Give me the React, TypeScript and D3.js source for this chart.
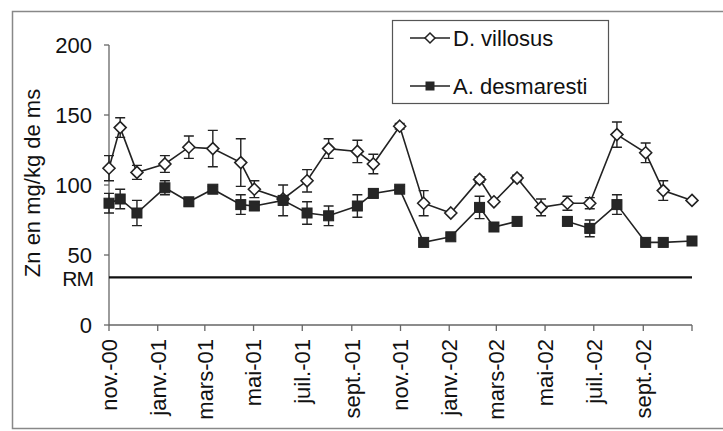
import React, { useRef, useEffect } from "react";
import * as d3 from "d3";

// sampling dates
const dates = [
  "2000-11-01", "2000-11-15", "2000-12-06", "2001-01-10", "2001-02-09",
  "2001-03-11", "2001-04-15", "2001-05-02", "2001-06-07", "2001-07-07",
  "2001-08-03", "2001-09-08", "2001-09-28", "2001-10-31", "2001-11-30",
  "2002-01-03", "2002-02-08", "2002-02-26", "2002-03-27", "2002-04-26",
  "2002-05-29", "2002-06-26", "2002-07-30", "2002-09-04", "2002-09-26",
  "2002-11-01",
];

const villosus = [
  112, 141, 109, 115, 127, 126, 116, 97, 90, 103, 126, 124, 115, 142, 87,
  80, 104, 88, 105, 84, 87, 87, 136, 123, 96, 89,
];
const villosusErr = [
  9, 7, 5, 6, 8, 13, 17, 6, 0, 8, 7, 8, 7, 2, 9, 0, 2, 0, 2, 6, 5, 4, 9, 7,
  7, 0,
];

const desmaresti: (number | null)[] = [
  87, 90, 80, 98, 88, 97, 86, 85, 89, 80, 78, 85, 94, 97, 59, 63, 84, 70, 74,
  null, 74, 69, 86, 59, 59, 60,
];
const desmarestiErr = [
  7, 7, 9, 5, 3, 2, 7, 3, 11, 8, 7, 8, 3, 2, 0, 0, 8, 0, 0, 0, 3, 6, 7, 0, 0,
  0,
];

const yTicks = [0, 50, 100, 150, 200];
const xTickLabels = [
  "nov.-00", "janv.-01", "mars-01", "mai-01", "juil.-01", "sept.-01",
  "nov.-01", "janv.-02", "mars-02", "mai-02", "juil.-02", "sept.-02", "",
];
const rmValue = 34;
const seriesNames = ["D. villosus", "A. desmaresti"];

const FONT = "'Liberation Sans', Arial, sans-serif";
const TEXT = "#111";

const App: React.FC = () => {
  const svgRef = useRef<SVGSVGElement | null>(null);

  useEffect(() => {
    if (!svgRef.current) return;
    const width = 723;
    const left = 109;
    const right = 692;
    const top = 45;
    const bottom = 325;

    const svg = d3.select(svgRef.current);
    svg.selectAll("*").remove();

    const parse = d3.timeParse("%Y-%m-%d");
    const dts = dates.map((d) => parse(d) as Date);

    const x = d3
      .scaleTime()
      .domain([parse("2000-11-01") as Date, parse("2002-11-01") as Date])
      .range([left, right]);
    const y = d3.scaleLinear().domain([0, 200]).range([bottom, top]);

    // outer frame
    svg
      .append("rect")
      .attr("x", 12.5)
      .attr("y", 11.5)
      .attr("width", width)
      .attr("height", 417)
      .attr("fill", "white")
      .attr("stroke", "#888")
      .attr("stroke-width", 1.5);

    // y axis
    const axisColor = "#666";
    svg
      .append("line")
      .attr("x1", left)
      .attr("x2", left)
      .attr("y1", top)
      .attr("y2", bottom)
      .attr("stroke", axisColor)
      .attr("stroke-width", 1.3);
    yTicks.forEach((t) => {
      svg
        .append("line")
        .attr("x1", left - 5)
        .attr("x2", left)
        .attr("y1", y(t))
        .attr("y2", y(t))
        .attr("stroke", axisColor)
        .attr("stroke-width", 1.3);
      svg
        .append("text")
        .attr("x", 92)
        .attr("y", y(t))
        .attr("dy", "0.36em")
        .attr("text-anchor", "end")
        .attr("font-family", FONT)
        .attr("font-size", 22)
        .attr("fill", TEXT)
        .text(t);
    });

    svg
      .append("text")
      .attr("transform", `translate(${32},${(top + bottom) / 2 - 2}) rotate(-90)`)
      .attr("dy", "0.35em")
      .attr("text-anchor", "middle")
      .attr("font-family", FONT)
      .attr("font-size", 22)
      .attr("fill", TEXT)
      .text("Zn en mg/kg de ms");

    // x axis
    svg
      .append("line")
      .attr("x1", left)
      .attr("x2", right)
      .attr("y1", bottom)
      .attr("y2", bottom)
      .attr("stroke", axisColor)
      .attr("stroke-width", 1.3);
    const ticks = x.ticks(d3.timeMonth.every(2) as d3.TimeInterval);
    ticks.forEach((t, i) => {
      const tx = x(t);
      svg
        .append("line")
        .attr("x1", tx)
        .attr("x2", tx)
        .attr("y1", bottom)
        .attr("y2", bottom + 6)
        .attr("stroke", axisColor)
        .attr("stroke-width", 1.3);
      svg
        .append("text")
        .attr("transform", `translate(${tx},${339}) rotate(-90)`)
        .attr("dy", "0.36em")
        .attr("text-anchor", "end")
        .attr("font-family", FONT)
        .attr("font-size", 22)
        .attr("fill", TEXT)
        .text(xTickLabels[i] ?? "");
    });

    // RM reference line
    svg
      .append("line")
      .attr("x1", left)
      .attr("x2", right)
      .attr("y1", y(rmValue))
      .attr("y2", y(rmValue))
      .attr("stroke", "#111")
      .attr("stroke-width", 2.2);
    svg
      .append("text")
      .attr("x", 93)
      .attr("y", y(rmValue) + 1)
      .attr("dy", "0.36em")
      .attr("text-anchor", "end")
      .attr("font-family", FONT)
      .attr("font-size", 21)
      .attr("letter-spacing", -1)
      .attr("fill", TEXT)
      .text("RM");

    const ink = "#222";
    const line = d3
      .line<number | null>()
      .defined((d) => d !== null)
      .x((d, i) => x(dts[i]))
      .y((d) => y(d as number));

    const drawSeries = (
      vals: (number | null)[],
      errs: number[],
      kind: "diamond" | "square"
    ) => {
      const g = svg.append("g");
      g.append("path")
        .attr("d", line(vals) as string)
        .attr("fill", "none")
        .attr("stroke", ink)
        .attr("stroke-width", 1.6);
      vals.forEach((v, i) => {
        if (v === null || !errs[i]) return;
        const cx = x(dts[i]);
        const y1 = y(v + errs[i]);
        const y2 = y(v - errs[i]);
        g.append("path")
          .attr("d", `M${cx},${y1}V${y2}M${cx - 5},${y1}H${cx + 5}M${cx - 5},${y2}H${cx + 5}`)
          .attr("fill", "none")
          .attr("stroke", ink)
          .attr("stroke-width", 1.4);
      });
      vals.forEach((v, i) => {
        if (v === null) return;
        const cx = x(dts[i]);
        const cy = y(v);
        if (kind === "diamond") {
          g.append("path")
            .attr("d", `M${cx},${cy - 6}L${cx + 6},${cy}L${cx},${cy + 6}L${cx - 6},${cy}Z`)
            .attr("fill", "white")
            .attr("stroke", ink)
            .attr("stroke-width", 1.6);
        } else {
          g.append("rect")
            .attr("x", cx - 5)
            .attr("y", cy - 5)
            .attr("width", 10)
            .attr("height", 10)
            .attr("fill", "#262626")
            .attr("stroke", ink)
            .attr("stroke-width", 1);
        }
      });
    };

    drawSeries(villosus, villosusErr, "diamond");
    drawSeries(desmaresti, desmarestiErr, "square");

    // legend
    const lg = svg.append("g");
    lg.append("rect")
      .attr("x", 392.5)
      .attr("y", 20.5)
      .attr("width", 216)
      .attr("height", 83)
      .attr("fill", "white")
      .attr("stroke", "#555")
      .attr("stroke-width", 1.2);
    seriesNames.forEach((name, i) => {
      const ly = 38 + i * 48;
      lg.append("line")
        .attr("x1", 410)
        .attr("x2", 450)
        .attr("y1", ly)
        .attr("y2", ly)
        .attr("stroke", ink)
        .attr("stroke-width", 1.6);
      if (i === 0) {
        lg.append("path")
          .attr("d", `M430,${ly - 5}L435,${ly}L430,${ly + 5}L425,${ly}Z`)
          .attr("fill", "white")
          .attr("stroke", ink)
          .attr("stroke-width", 1.5);
      } else {
        lg.append("rect")
          .attr("x", 425.5)
          .attr("y", ly - 4.5)
          .attr("width", 9)
          .attr("height", 9)
          .attr("fill", "#262626");
      }
      lg.append("text")
        .attr("x", 453)
        .attr("y", ly)
        .attr("dy", "0.36em")
        .attr("font-family", FONT)
        .attr("font-size", 22)
        .attr("fill", TEXT)
        .text(name);
    });
  }, []);

  return (
    <div style={{ position: "fixed", left: 0, top: 0 }}>
      <svg ref={svgRef} width={723} height={431} style={{ display: "block" }}></svg>
    </div>
  );
};

export default App;
